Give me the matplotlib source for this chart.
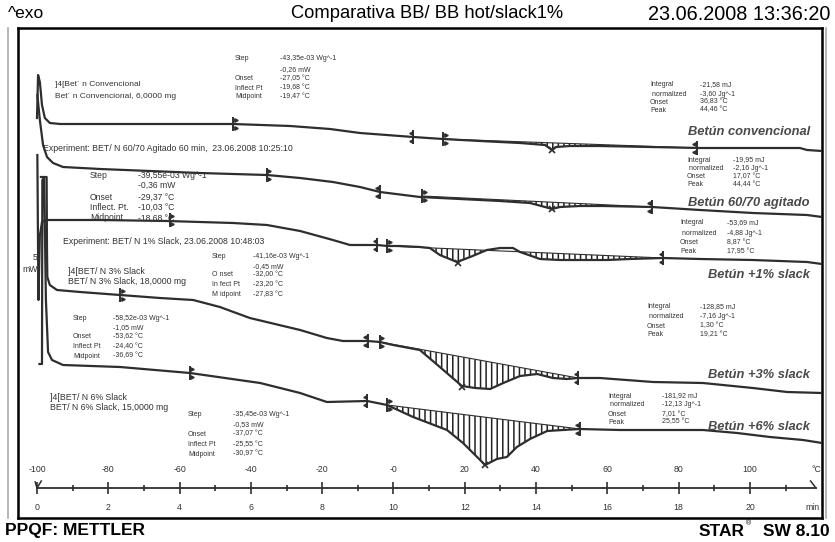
import numpy as np
import matplotlib.pyplot as plt
from matplotlib.lines import Line2D

plt.rcParams['font.family'] = ['Liberation Sans', 'DejaVu Sans']
plt.rcParams['hatch.linewidth'] = 1.1

# ---- data: time (min) vs. displayed signal (stacked display units)
conv_t = [0.0, 0.03, 0.08, 0.14, 0.22, 0.36, 0.65, 1.77, 3.17, 4.57, 5.50, 7.10, 8.22, 9.06, 10.18,
          10.55, 11.39, 12.43, 13.55, 14.25, 14.45, 14.56, 14.95, 15.79, 17.19, 18.60, 20.28, 21.40, 21.60, 22.02]
conv_v = [400, 443, 436, 413, 400, 395, 394, 394, 394, 394, 394, 392, 389, 385, 382,
          381, 379, 377, 375, 373, 368, 371, 372, 372, 371, 370, 370, 370, 368, 367]

agit_t = [0.01, 0.08, 0.17, 0.28, 0.45, 0.73, 1.77, 3.17, 4.57, 6.45, 7.38, 8.30, 9.06, 9.62, 10.74,
          11.87, 12.99, 13.83, 14.25, 14.45, 14.67, 15.23, 15.88, 17.25, 18.60, 20.08, 21.60, 22.02]
agit_v = [423, 398, 373, 361, 355, 351, 349, 347, 345, 343, 340, 336, 331, 326, 321,
          319, 317, 315, 311, 309, 311, 312, 312, 311, 308, 305, 303, 301]

s1_t = [0.01, 0.04, 0.08, 0.14, 0.25, 0.36, 1.77, 3.65, 5.50, 6.45, 7.38, 8.30, 8.78, 9.54, 9.82, 10.18,
        10.74, 11.02, 11.30, 11.78, 12.15, 12.62, 12.99, 13.35, 13.55, 14.11, 14.67, 15.23, 15.99, 16.63,
        17.56, 18.60, 20.08, 21.60, 22.02]
s1_v = [363, 218, 282, 296, 298, 298, 298, 297, 295, 293, 287, 278, 273, 273, 272, 272,
        271, 270, 263, 256, 261, 268, 270, 270, 266, 259, 258, 258, 258, 259,
        260, 259, 258, 256, 254]

s3_t = [0.11, 0.27, 0.28, 0.29, 0.36, 0.56, 1.21, 2.33, 3.45, 4.38, 5.13, 5.97, 7.38, 8.13, 8.58, 9.28,
        9.62, 9.99, 10.74, 11.30, 11.92, 12.29, 12.71, 13.08, 13.55, 14.03, 14.47, 14.87, 15.18, 15.79,
        17.28, 18.68, 20.08, 21.04, 22.02]
s3_v = [341, 341, 268, 241, 233, 228, 226, 223, 220, 218, 211, 200, 188, 180, 177, 177,
        176, 173, 168, 151, 132, 130, 129, 135, 142, 144, 140, 139, 140, 140,
        136, 135, 130, 126, 125]

s6_t = [0.07, 0.14, 0.15, 0.20, 0.25, 0.31, 0.42, 0.73, 2.33, 4.29, 6.26, 7.38, 8.13, 9.26, 9.82, 10.55,
        11.50, 11.95, 12.43, 12.57, 12.90, 13.18, 13.46, 13.83, 14.31, 14.75, 15.23, 16.35, 18.68, 19.64,
        20.56, 21.49, 22.02]
s6_v = [154, 154, 338, 340, 218, 166, 158, 153, 151, 145, 135, 125, 116, 117, 113, 101,
        88, 75, 58, 53, 59, 61, 71, 79, 87, 88, 89, 88, 88, 85,
        81, 78, 75]

# step limits, integration limits (baseline ends) and peak positions
conv_step_t, conv_step_v = [5.50, 10.55], [394, 381]
conv_int_t, conv_int_v = [11.39, 18.51], [379, 370]
conv_peak = (14.45, 368)
agit_step_t, agit_step_v = [6.45, 9.62], [343, 326]
agit_int_t, agit_int_v = [10.80, 17.25], [322, 311]
agit_peak = (14.45, 309)
s1_step_t, s1_step_v = [3.73, 9.54], [298, 273]
s1_int_t, s1_int_v = [9.82, 17.56], [272, 260]
s1_peak = (11.81, 255)
s3_step_t, s3_step_v = [2.33, 9.28], [223, 177]
s3_int_t, s3_int_v = [9.62, 15.18], [176, 140]
s3_peak = (11.92, 131)
s6_step_t, s6_step_v = [4.29, 9.26], [145, 117]
s6_int_t, s6_int_v = [9.82, 15.23], [113, 89]
s6_peak = (12.57, 53)

temp_labels = ['-100', '-80', '-60', '-40', '-20', '-0', '20', '40', '60', '80', '100']
min_labels = ['0', '2', '4', '6', '8', '10', '12', '14', '16', '18', '20']

W, H = 835, 542
fig = plt.figure(figsize=(W / 100, H / 100), dpi=100)
ax = fig.add_axes([18 / W, 1 - 518 / H, 804 / W, 490 / H])
ax.set_xlim(-0.533, 22.02)
ax.set_ylim(0, 490)
ax.set_xticks([])
ax.set_yticks([])
for s in ax.spines.values():
    s.set_linewidth(1.8)

LC = '#2e2e2e'
TC = '#333333'


def limit_mark(t, v, side):
    ax.plot([t], [v], marker='|', ms=10, mew=1.4, color=LC, zorder=4)
    m = '>' if side == 'start' else '<'
    dx = 0.07 if side == 'start' else -0.07
    ax.plot([t + dx, t + dx], [v + 4, v - 4], ls='none', marker=m, ms=2.5, color=LC, zorder=4)


curves = [
    (conv_t, conv_v, conv_step_t, conv_step_v, conv_int_t, conv_int_v, conv_peak),
    (agit_t, agit_v, agit_step_t, agit_step_v, agit_int_t, agit_int_v, agit_peak),
    (s1_t, s1_v, s1_step_t, s1_step_v, s1_int_t, s1_int_v, s1_peak),
    (s3_t, s3_v, s3_step_t, s3_step_v, s3_int_t, s3_int_v, s3_peak),
    (s6_t, s6_v, s6_step_t, s6_step_v, s6_int_t, s6_int_v, s6_peak),
]

for t, v, st, sv, it, iv, pk in curves:
    t = np.array(t)
    v = np.array(v, dtype=float)
    ax.plot(t, v, color=LC, lw=1.6, zorder=3)
    # integration baseline + hatching
    inside = (t > it[0]) & (t < it[1])
    tt = np.concatenate([[it[0]], t[inside], [it[1]]])
    vv = np.concatenate([[np.interp(it[0], t, v)], v[inside], [np.interp(it[1], t, v)]])
    base = np.interp(tt, it, iv)
    ax.fill_between(tt, vv, base, where=vv < base, interpolate=True, facecolor='none',
                    edgecolor='#222222', hatch='|||', lw=0, zorder=2)
    ax.plot(it, iv, color=LC, lw=0.8, zorder=3)
    limit_mark(st[0], sv[0], 'start')
    limit_mark(st[1], sv[1], 'end')
    limit_mark(it[0], iv[0], 'start')
    limit_mark(it[1], iv[1], 'end')
    ax.plot([pk[0]], [pk[1]], marker='x', ms=5, mew=1.2, color=LC, zorder=4)

# ---- time / temperature ruler
ruler_y = 30
ax.plot([0, 21.85], [ruler_y, ruler_y], color=LC, lw=1.3)
major = np.arange(0, 21, 2)
minor = np.arange(1, 22, 2)
ax.plot(major, [ruler_y] * len(major), ls='none', marker='|', ms=9, mew=1.2, color=LC)
ax.plot(minor, [ruler_y] * len(minor), ls='none', marker='|', ms=5, mew=1.2, color=LC)
ax.plot([-0.05, 0, 0.12], [36, 30, 37], color=LC, lw=1.1)
ax.plot([21.7, 21.85], [37, 30], color=LC, lw=1.1)
for tk, lab in zip(major, temp_labels):
    ax.text(tk, 48, lab, ha='center', va='center', fontsize=6.3, color=TC)
for tk, lab in zip(major, min_labels):
    ax.text(tk, 11, lab, ha='center', va='center', fontsize=6.3, color=TC)
ax.text(21.85, 48, '°C', ha='center', va='center', fontsize=6.3, color=TC)
ax.text(21.75, 11, 'min', ha='center', va='center', fontsize=6.3, color=TC)


def ftext(x, y, s, **kw):
    kw.setdefault('color', TC)
    kw.setdefault('va', 'center')
    fig.text(x / W, 1 - y / H, s, **kw)


def block(lx, vx, ys, rows, size):
    for y, (lab, val) in zip(ys, rows):
        ftext(lx, y, lab, fontsize=size)
        ftext(vx, y, val, fontsize=size)


# header / footer
ftext(8, 14, '^exo', fontsize=12.5, color='black')
ftext(427, 14, 'Comparativa BB/ BB hot/slack1%', fontsize=13.2, ha='center', color='black')
ftext(830, 14, '23.06.2008 13:36:20', fontsize=14.3, ha='right', color='black')
ftext(5, 531, 'PPQF: METTLER', fontsize=12.5, fontweight='bold', color='black')
ftext(745, 531, 'STAR', fontsize=12.5, fontweight='bold', ha='right', color='black')
ftext(746, 524, '®', fontsize=5, color='black')
ftext(830, 531, 'SW 8.10', fontsize=12.5, fontweight='bold', ha='right', color='black')

# frame side lines of the page
fig.add_artist(Line2D([8 / W, 8 / W], [1 - 518 / H, 1 - 28 / H], color='#aaaaaa', lw=1.2))
fig.add_artist(Line2D([826 / W, 826 / W], [1 - 518 / H, 1 - 28 / H], color='#aaaaaa', lw=1.2))

# sample names
ftext(55, 84, ']4[Bet´ n Convencional', fontsize=6)
ftext(55, 97, 'Bet´ n Convencional, 6,0000 mg', fontsize=6)
ftext(43, 148, 'Experiment: BET/ N 60/70 Agitado 60 min,  23.06.2008 10:25:10', fontsize=6.3)
ftext(63, 241, 'Experiment: BET/ N 1% Slack, 23.06.2008 10:48:03', fontsize=6.3)
ftext(68, 272, ']4[BET/ N 3% Slack', fontsize=6.3)
ftext(68, 282, 'BET/ N 3% Slack, 18,0000 mg', fontsize=6.3)
ftext(50, 397, ']4[BET/ N 6% Slack', fontsize=6.3)
ftext(50, 407, 'BET/ N 6% Slack, 15,0000 mg', fontsize=6.3)
ftext(33, 258, '5', fontsize=6.3)
ftext(22, 270, 'mW', fontsize=6.3)

# step evaluations
block(235, 280, [59, 70, 79, 88, 97],
      [('Step', '-43,35e-03 Wg^-1'), ('', '-0,26 mW'), ('Onset', '-27,05 °C'),
       ('Inflect Pt', '-19,68 °C'), ('Midpoint', '-19,47 °C')], 5.0)
block(90, 138, [175, 185, 197, 207, 218],
      [('Step', '-39,55e-03 Wg^-1'), ('', '-0,36 mW'), ('Onset', '-29,37 °C'),
       ('Inflect. Pt.', '-10,03 °C'), ('Midpoint', '-18,68 °C')], 6.2)
block(212, 253, [257, 267, 275, 285, 295],
      [('Step', '-41,16e-03 Wg^-1'), ('', '-0,45 mW'), ('O nset', '-32,00 °C'),
       ('In fect Pt', '-23,20 °C'), ('M idpoint', '-27,83 °C')], 5.0)
block(73, 113, [318, 328, 337, 347, 356],
      [('Step', '-58,52e-03 Wg^-1'), ('', '-1,05 mW'), ('Onset', '-53,62 °C'),
       ('Inflect Pt', '-24,40 °C'), ('Midpoint', '-36,69 °C')], 5.0)
block(188, 233, [415, 425, 434, 445, 454],
      [('Step', '-35,45e-03 Wg^-1'), ('', '-0,53 mW'), ('Onset', '-37,07 °C'),
       ('Inflect Pt', '-25,55 °C'), ('Midpoint', '-30,97 °C')], 5.0)

# integral evaluations
block(650, 700, [85, 94, 102, 110],
      [('Integral', '-21,58 mJ'), (' normalized', '-3,60 Jg^-1'), ('Onset', '36,83 °C'),
       ('Peak', '44,46 °C')], 5.0)
block(687, 733, [160, 168, 177, 185],
      [('Integral', '-19,95 mJ'), (' normalized', '-2,16 Jg^-1'), ('Onset', '17,07 °C'),
       ('Peak', '44,44 °C')], 5.0)
block(680, 727, [223, 233, 243, 252],
      [('Integral', '-53,69 mJ'), (' normalized', '-4,88 Jg^-1'), ('Onset', '8,87 °C'),
       ('Peak', '17,95 °C')], 5.0)
block(647, 700, [307, 316, 326, 335],
      [('Integral', '-128,85 mJ'), (' normalized', '-7,16 Jg^-1'), ('Onset', '1,30 °C'),
       ('Peak', '19,21 °C')], 5.0)
block(608, 662, [396, 405, 415, 422],
      [('Integral', '-181,92 mJ'), (' normalized', '-12,13 Jg^-1'), ('Onset', '7,01 °C'),
       ('Peak', '25,55 °C')], 5.0)

# curve names
names = [('Betún convencional', 132), ('Betún 60/70 agitado', 203), ('Betún +1% slack', 275),
         ('Betún +3% slack', 375), ('Betún +6% slack', 427)]
for s, y in names:
    ftext(810, y, s, fontsize=9.3, fontweight='bold', fontstyle='italic', ha='right', color='#4a4a4a')

fig.savefig('out.png', dpi=100)
